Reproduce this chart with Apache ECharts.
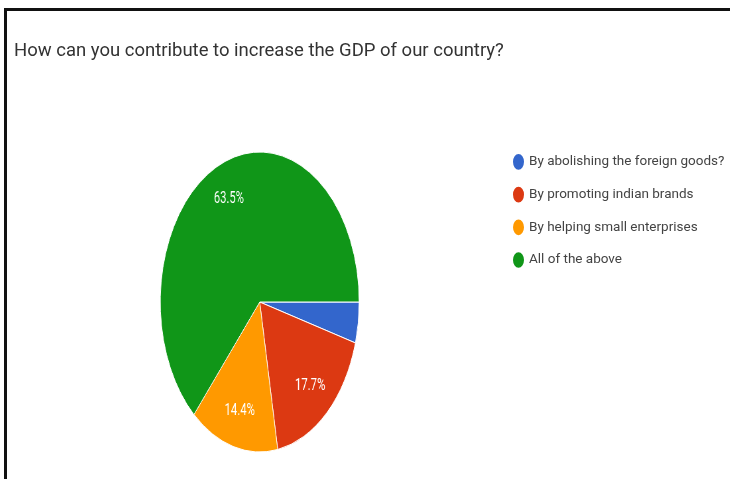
<!DOCTYPE html>
<html>
<head>
<meta charset="utf-8">
<script src="https://cdn.jsdelivr.net/npm/echarts@6/dist/echarts.min.js"></script>
<style>
  html, body { margin: 0; padding: 0; background: #fff; }
  #main { position: absolute; left: 0; top: 0; width: 730px; height: 479px; }
  #frame { position: absolute; left: 4px; top: 8px; width: 726px; height: 471px;
           border-top: 3px solid #111; border-left: 3px solid #111; box-sizing: border-box; }
  /* the pie is stretched into an upright ellipse */
  #pie { position: absolute; left: 147.3px; top: 132px; width: 340px; height: 340px;
         transform: scaleX(0.663); transform-origin: 0 0; }
</style>
</head>
<body>
<div id="main"></div>
<div id="frame"></div>
<div id="pie"></div>
<script>
  const chartTitle = 'How can you contribute to increase the GDP of our country?';
  const answers = [
    'By abolishing the foreign goods?',
    'By promoting indian brands',
    'By helping small enterprises',
    'All of the above'
  ];
  const shares = [4.4, 17.7, 14.4, 63.5];
  const sliceColors = ['#3366cc', '#dc3912', '#ff9900', '#109618'];

  const pieData = answers.map((name, i) => ({
    name: name,
    value: shares[i],
    itemStyle: { color: sliceColors[i] }
  }));

  // Title and legend
  const main = echarts.init(document.getElementById('main'));
  main.setOption({
    animation: false,
    backgroundColor: '#fff',
    title: {
      text: chartTitle,
      left: 14,
      top: 42,
      padding: 0,
      textStyle: { fontFamily: 'Roboto', fontSize: 18.5, fontWeight: 'normal', color: '#333' }
    },
    legend: {
      orient: 'vertical',
      left: 508,
      top: 149,
      itemWidth: 11,
      itemHeight: 16,
      itemGap: 17,
      icon: 'path://M35,0A35,50,0,1,1,35,100A35,50,0,1,1,35,0Z',
      selectedMode: false,
      textStyle: { fontFamily: 'Roboto', fontSize: 13.5, color: '#444' },
      data: answers
    },
    series: [{
      type: 'pie',
      radius: 0,
      silent: true,
      label: { show: false },
      labelLine: { show: false },
      data: pieData
    }]
  });

  // The pie itself
  const pie = echarts.init(document.getElementById('pie'));
  pie.setOption({
    animation: false,
    series: [
      {
        type: 'pie',
        center: ['50%', '50%'],
        radius: 150,
        startAngle: 0,
        clockwise: true,
        silent: true,
        label: { show: false },
        labelLine: { show: false },
        itemStyle: { borderColor: '#fff', borderWidth: 1 },
        data: pieData
      },
      {
        // percentage labels placed toward the rim
        type: 'pie',
        center: ['50%', '50%'],
        radius: [70, 150],
        startAngle: 0,
        clockwise: true,
        silent: true,
        minShowLabelAngle: 20,
        itemStyle: { color: 'rgba(0,0,0,0)', borderWidth: 0 },
        label: {
          show: true,
          position: 'inside',
          formatter: '{c}%',
          color: '#fff',
          fontFamily: 'Roboto',
          fontSize: 17
        },
        labelLine: { show: false },
        data: answers.map((name, i) => ({ name: name, value: shares[i] }))
      }
    ]
  });
</script>
</body>
</html>
